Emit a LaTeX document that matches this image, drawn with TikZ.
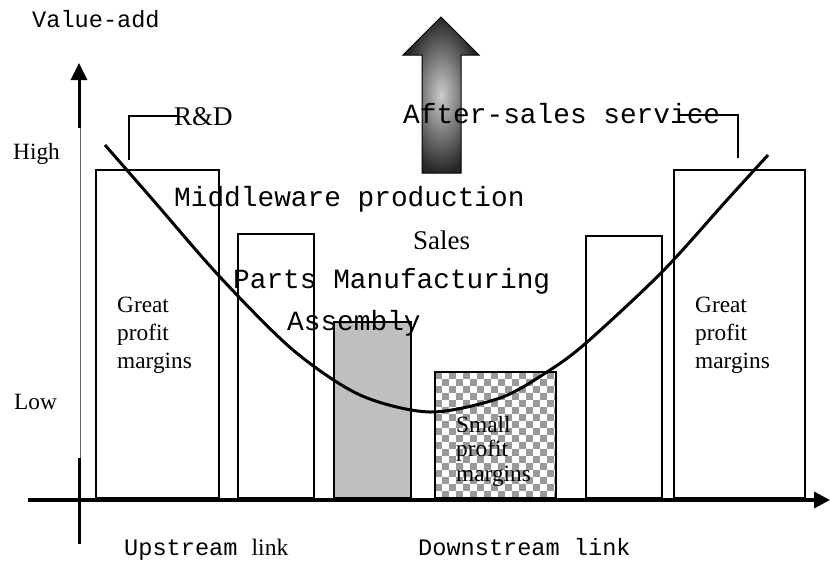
\documentclass[tikz,border=0pt]{standalone}
\usepackage{fontspec}
\setmainfont{Liberation Serif}
\newfontfamily\cour{Liberation Mono}
\usetikzlibrary{arrows.meta}

\begin{document}
\begin{tikzpicture}[x=1pt, y=-1pt,
  bar/.style={draw, line width=2pt},
  bigmono/.style={font=\cour\fontsize{27.8}{30}\selectfont, inner sep=0, anchor=base west},
  smallmono/.style={font=\cour\fontsize{23.6}{26}\selectfont, inner sep=0, anchor=base west},
  bigserif/.style={font=\fontsize{27}{30}\selectfont, inner sep=0, anchor=base west},
  serif/.style={font=\fontsize{23.3}{28}\selectfont, inner sep=0, anchor=base west},
  margin/.style={serif, align=left, anchor=north west}]
\useasboundingbox (0,0) rectangle (830,565);

% axes
\draw[line width=3pt, -{Triangle[length=17pt,width=16pt]}] (79,128) -- (79,63);
\draw[line width=0.8pt, black!60] (80,128) -- (80,458);
\draw[line width=3pt] (79,458) -- (79,544);
\draw[line width=3.5pt, -{Triangle[length=16pt,width=16pt]}] (28,500) -- (830,500);

\node[smallmono] (vadd) at (32,27) {Value-add};
\node[serif] (high) at (13,159) {High};
\node[serif] (low) at (14,409) {Low};

% bars
\draw[bar] (96,170) rectangle (219,498);
\draw[bar] (238,234) rectangle (314,498);
\draw[bar, fill=black!25] (334,322) rectangle (411,498);
\begin{scope}
  \clip (435,372) rectangle (556,498);
  \foreach \x in {0,14,...,126}
    \foreach \y in {0,14,...,126} {
      \fill[black!40] (435+\x,372+\y) rectangle ++(7,7);
      \fill[black!40] (442+\x,379+\y) rectangle ++(7,7);
    }
\end{scope}
\draw[bar] (435,372) rectangle (556,498);
\draw[bar] (586,236) rectangle (662,498);
\draw[bar] (674,170) rectangle (805,498);

\node[margin] (greatl) at (117,296.5) {Great\\profit\\margins};
\node[margin] (greatr) at (695,296.5) {Great\\profit\\margins};
\node[margin, font=\fontsize{23.3}{24.5}\selectfont] (small) at (456,416) {Small\\profit\\margins};

% smile curve
\draw[line width=3pt] plot[smooth] coordinates {(105,145) (153,200) (220,277) (293,350) (360,395)
  (430,412) (500,398) (547,372) (586,343) (662,272) (727,200) (768,155)};

% value arrow
\shade[draw=black, line width=1pt, inner color=black!20, outer color=black!85]
  (422,173) -- (422,55) -- (403,55) -- (441,17) -- (479,55) -- (461,55) -- (461,173) -- cycle;

% activities
\node[bigserif] (rd) at (174,125) {R\&D};
\coordinate (rdfoot) at (129,160);
\draw[line width=1.5pt] (rdfoot) |- ([xshift=3pt]rd.west);
\node[bigmono] (as) at (403,123) {After-sales service};
\coordinate (asfoot) at (738,158);
\draw[line width=1.5pt] (asfoot) |- ([shift={(-40,2)}]as.east);
\node[bigmono] (mid) at (174,206) {Middleware production};
\node[bigserif] (sales) at (413,249) {Sales};
\node[bigmono] (parts) at (233,288) {Parts Manufacturing};
\node[bigmono] (asm) at (287,330) {Assembly};

\node[smallmono] (up) at (124,555) {Upstream {\rmfamily link}};
\node[smallmono] (down) at (418,555) {Downstream link};
\end{tikzpicture}
\end{document}
